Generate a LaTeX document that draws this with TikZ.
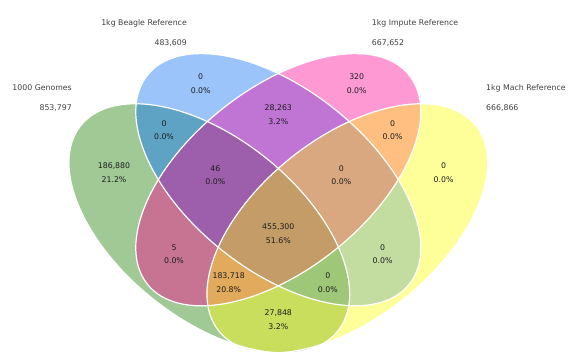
\documentclass[tikz,border=0pt]{standalone}
\usepackage{fontspec}
\setmainfont{DejaVu Sans}
\definecolor{cG}{RGB}{160,201,150}
\definecolor{cB}{RGB}{155,196,250}
\definecolor{cP}{RGB}{255,153,212}
\definecolor{cY}{RGB}{255,255,153}
\definecolor{cGB}{RGB}{95,163,196}
\definecolor{cGP}{RGB}{198,116,146}
\definecolor{cGY}{RGB}{200,222,92}
\definecolor{cBP}{RGB}{192,116,211}
\definecolor{cBY}{RGB}{195,221,160}
\definecolor{cPY}{RGB}{255,191,128}
\definecolor{cGBP}{RGB}{157,94,171}
\definecolor{cGBY}{RGB}{158,199,120}
\definecolor{cGPY}{RGB}{226,170,92}
\definecolor{cBPY}{RGB}{217,168,128}
\definecolor{cGBPY}{RGB}{195,156,104}
\definecolor{labc}{RGB}{30,30,30}
\definecolor{namec}{RGB}{64,64,64}
\begin{document}
\begin{tikzpicture}[x=1pt,y=1pt,
  ellin/.style={x radius=167.5, y radius=90.3},
  ellout/.style={x radius=164.5, y radius=90.3},
  tG/.style={shift={(209.3,133.7)}, rotate=-38.6},
  tB/.style={shift={(278.3,182.3)}, rotate=-38.6},
  tP/.style={shift={(278.3,182.3)}, rotate=38.6},
  tY/.style={shift={(347.3,133.7)}, rotate=38.6},
  outline/.style={draw=white, line width=1.2pt},
  lab/.style={anchor=base, text=labc, font=\fontsize{7.8}{9}\selectfont, inner sep=0pt},
  nameR/.style={anchor=base east, text=namec, font=\fontsize{7.8}{9}\selectfont, inner sep=0pt},
  nameL/.style={anchor=base west, text=namec, font=\fontsize{7.8}{9}\selectfont, inner sep=0pt}]
\useasboundingbox (0,0) rectangle (576,362);
% single sets
\fill[cG, tG] (0,0) ellipse [ellout];
\fill[cB, tB] (0,0) ellipse [ellin];
\fill[cP, tP] (0,0) ellipse [ellin];
\fill[cY, tY] (0,0) ellipse [ellout];
% pairs
\begin{scope}\clip[tG] (0,0) ellipse [ellout]; \fill[cGB, tB] (0,0) ellipse [ellin];\end{scope}
\begin{scope}\clip[tG] (0,0) ellipse [ellout]; \fill[cGP, tP] (0,0) ellipse [ellin];\end{scope}
\begin{scope}\clip[tG] (0,0) ellipse [ellout]; \fill[cGY, tY] (0,0) ellipse [ellout];\end{scope}
\begin{scope}\clip[tB] (0,0) ellipse [ellin]; \fill[cBP, tP] (0,0) ellipse [ellin];\end{scope}
\begin{scope}\clip[tB] (0,0) ellipse [ellin]; \fill[cBY, tY] (0,0) ellipse [ellout];\end{scope}
\begin{scope}\clip[tP] (0,0) ellipse [ellin]; \fill[cPY, tY] (0,0) ellipse [ellout];\end{scope}
% triples
\begin{scope}\clip[tG] (0,0) ellipse [ellout]; \clip[tB] (0,0) ellipse [ellin]; \fill[cGBP, tP] (0,0) ellipse [ellin];\end{scope}
\begin{scope}\clip[tG] (0,0) ellipse [ellout]; \clip[tB] (0,0) ellipse [ellin]; \fill[cGBY, tY] (0,0) ellipse [ellout];\end{scope}
\begin{scope}\clip[tG] (0,0) ellipse [ellout]; \clip[tP] (0,0) ellipse [ellin]; \fill[cGPY, tY] (0,0) ellipse [ellout];\end{scope}
\begin{scope}\clip[tB] (0,0) ellipse [ellin]; \clip[tP] (0,0) ellipse [ellin]; \fill[cBPY, tY] (0,0) ellipse [ellout];\end{scope}
% all four
\begin{scope}\clip[tG] (0,0) ellipse [ellout]; \clip[tB] (0,0) ellipse [ellin]; \clip[tP] (0,0) ellipse [ellin]; \fill[cGBPY, tY] (0,0) ellipse [ellout];\end{scope}
% outlines
\draw[outline, tG] (0,0) ellipse [ellout];
\draw[outline, tB] (0,0) ellipse [ellin];
\draw[outline, tP] (0,0) ellipse [ellin];
\draw[outline, tY] (0,0) ellipse [ellout];
% region labels
\node[lab] (nG1) at (114,193.2) {186,880};   \node[lab] (nG2) at (114,179.4) {21.2\%};
\node[lab] (nB1) at (200.7,282.5) {0};       \node[lab] (nB2) at (200.7,268.7) {0.0\%};
\node[lab] (nP1) at (356.7,282.5) {320};     \node[lab] (nP2) at (356.7,268.7) {0.0\%};
\node[lab] (nY1) at (443.6,193.2) {0};       \node[lab] (nY2) at (443.6,179.4) {0.0\%};
\node[lab] (nGB1) at (164,235.9) {0};        \node[lab] (nGB2) at (164,222.1) {0.0\%};
\node[lab] (nBP1) at (278.3,251.5) {28,263}; \node[lab] (nBP2) at (278.3,237.7) {3.2\%};
\node[lab] (nPY1) at (392.6,235.9) {0};      \node[lab] (nPY2) at (392.6,222.1) {0.0\%};
\node[lab] (nGBP1) at (215.3,190.9) {46};    \node[lab] (nGBP2) at (215.3,177.1) {0.0\%};
\node[lab] (nBPY1) at (341.3,190.9) {0};     \node[lab] (nBPY2) at (341.3,177.1) {0.0\%};
\node[lab] (nAll1) at (278.3,132.5) {455,300}; \node[lab] (nAll2) at (278.3,118.7) {51.6\%};
\node[lab] (nGP1) at (174,111.9) {5};        \node[lab] (nGP2) at (174,98.1) {0.0\%};
\node[lab] (nBY1) at (382.6,111.9) {0};      \node[lab] (nBY2) at (382.6,98.1) {0.0\%};
\node[lab] (nGPY1) at (228.7,83.7) {183,718}; \node[lab] (nGPY2) at (228.7,69.9) {20.8\%};
\node[lab] (nGBY1) at (327.9,83.7) {0};      \node[lab] (nGBY2) at (327.9,69.9) {0.0\%};
\node[lab] (nGY1) at (278.3,46.5) {27,848};  \node[lab] (nGY2) at (278.3,32.7) {3.2\%};
% set names
\node[nameR] (sG) at (72,271.9) {1000 Genomes};  \node[nameR] (sGn) at (72,251.9) {853,797};
\node[nameR] (sB) at (187,336.9) {1kg Beagle Reference}; \node[nameR] (sBn) at (187,316.5) {483,609};
\node[nameL] (sP) at (371.7,336.9) {1kg Impute Reference}; \node[nameL] (sPn) at (371.7,316.5) {667,652};
\node[nameL] (sY) at (486,271.9) {1kg Mach Reference}; \node[nameL] (sYn) at (486,251.9) {666,866};
\end{tikzpicture}
\end{document}
